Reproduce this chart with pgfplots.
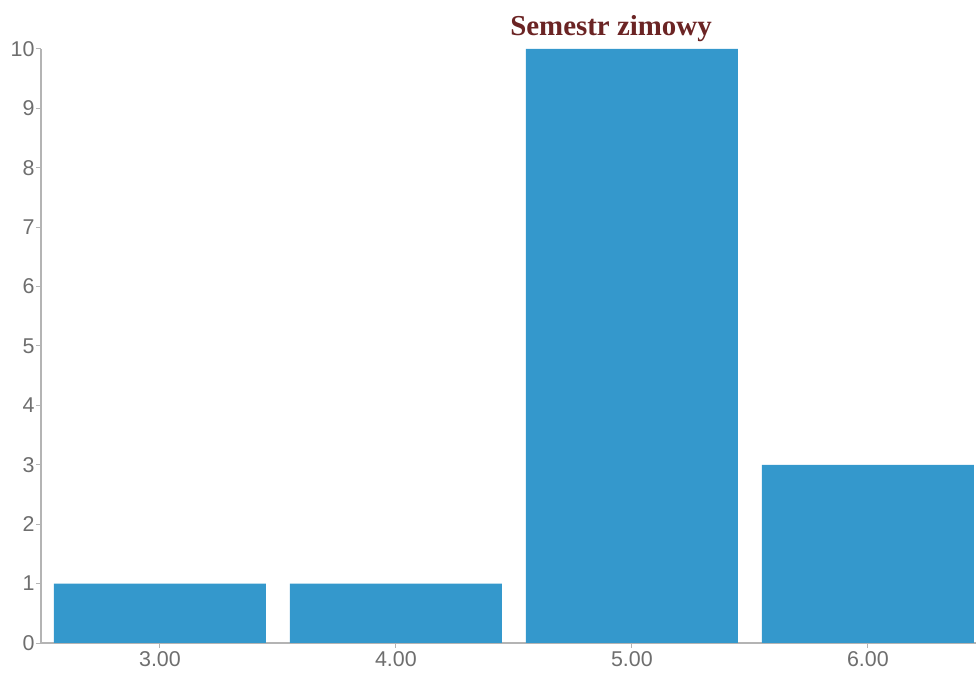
\documentclass[border=0pt]{standalone}
\usepackage{pgfplots}
\pgfplotsset{compat=1.18}
\usepackage{fontspec}
\setmainfont{Liberation Sans}
\newfontfamily\titlefont{Liberation Serif}
\definecolor{barblue}{HTML}{3498CC}
\definecolor{titlered}{HTML}{6B2424}
\definecolor{axisgray}{HTML}{B4B4B4}
\definecolor{labelgray}{HTML}{6E6E6E}
\begin{document}
\begin{tikzpicture}
\path[use as bounding box] (0,0) rectangle (976bp,673bp);
\begin{axis}[
  at={(41bp,30bp)}, anchor=south west,
  scale only axis, width=935bp, height=594bp,
  xmin=-0.504, xmax=3.458, ymin=0, ymax=10,
  axis x line=bottom, axis y line=left,
  axis line style={-, draw=axisgray, line width=1.2bp},
  xtick={0,1,2,3}, xticklabels={3.00,4.00,5.00,6.00},
  ytick={0,1,...,10},
  tick style={draw=axisgray, line width=1bp},
  major tick length=5bp,
  tick align=outside,
  /pgf/number format/assume math mode=true,
  tick label style={font=\fontsize{21.5}{24}\selectfont, text=labelgray},
  yticklabel style={xshift=2bp},
  xticklabel style={yshift=0bp},
  clip=true,
]
\addplot[ybar, bar width=0.898, fill=barblue, draw=none] coordinates {(0,1) (1,1) (2,10) (3,3)};
\end{axis}
\node[anchor=base, text=titlered, font=\titlefont\bfseries\fontsize{29}{32}\selectfont] at (611bp,637bp) {Semestr zimowy};
\end{tikzpicture}
\end{document}
